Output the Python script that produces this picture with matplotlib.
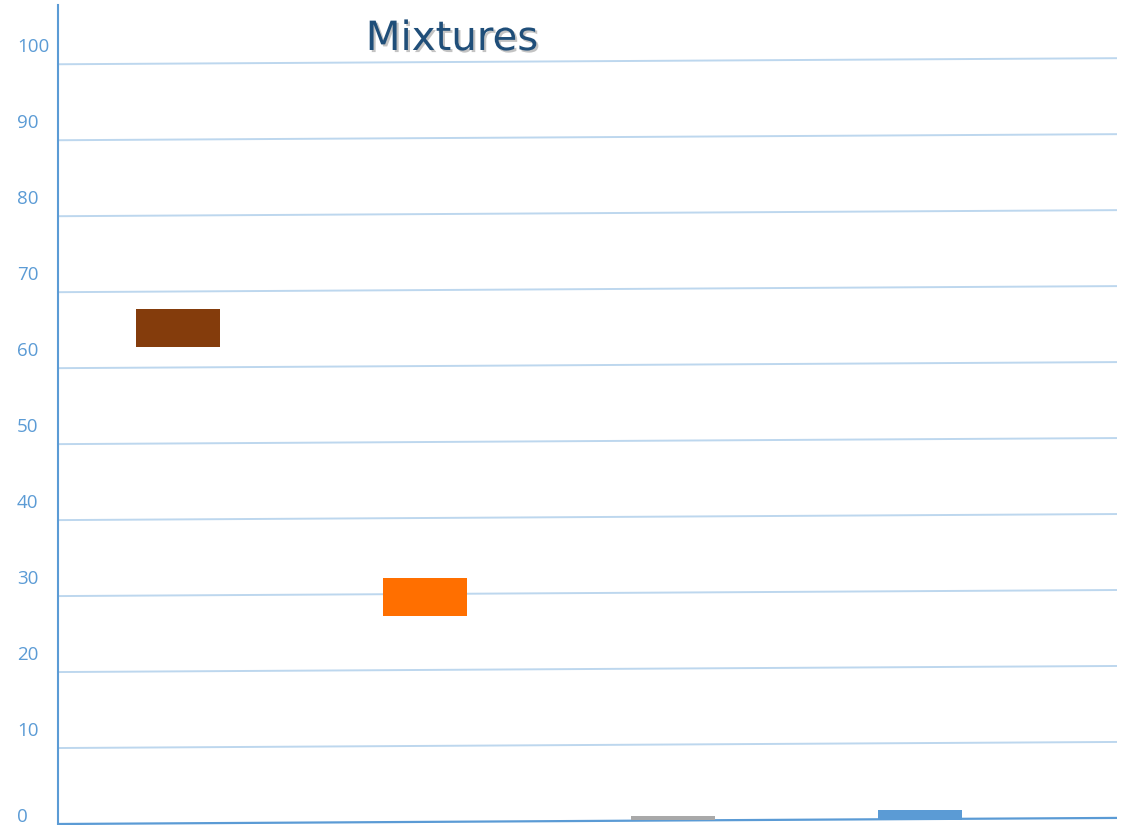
import matplotlib
matplotlib.use("Agg")
import matplotlib.pyplot as plt
import matplotlib.patheffects as pe
import numpy as np

# ---- data ----
categories = ["A", "B", "C", "D"]
lows = [62.8, 27.4, 0.5, 0.5]
highs = [67.8, 32.4, 1.05, 1.85]
bar_colors = ["#843C0C", "#FF6F00", "#A9A9A9", "#5B9BD5"]
yticks = [0, 10, 20, 30, 40, 50, 60, 70, 80, 90, 100]
title = "Mixtures"

# ---- figure ----
W, H = 1127, 825
fig = plt.figure(figsize=(W / 100, H / 100), dpi=100)
ax = fig.add_axes([58 / W, 1 / H, (1117 - 58) / W, (824 - 5) / H])
xlim = (-0.486, 3.798)
ax.set_xlim(*xlim)
ax.set_ylim(0, 107.8)

TILT = 0.8  # slight upward slope of grid lines (style)
for v in yticks:
    if v == 0:
        ax.plot(xlim, [v, v + TILT], color="#5B9BD5", lw=1.6, zorder=1,
                solid_capstyle="butt", clip_on=False)
    else:
        ax.plot(xlim, [v, v + TILT], color="#BDD7EE", lw=1.4, zorder=1,
                solid_capstyle="butt")

x = np.arange(len(categories))
ax.bar(x, np.array(highs) - np.array(lows), bottom=lows, width=0.34,
       color=bar_colors, zorder=3)

for s in ["top", "right", "bottom"]:
    ax.spines[s].set_visible(False)
ax.spines["left"].set_color("#5B9BD5")
ax.spines["left"].set_linewidth(1.5)
ax.set_xticks([])
ax.set_yticks([])

tx = ax.get_yaxis_transform()
for v in yticks:
    ypos = v + 2.3 if v > 0 else 0.95
    ax.text(-(58 - 17) / (1117 - 58), ypos, str(v), transform=tx,
            ha="left", va="center", fontsize=13.5, color="#5B9BD5",
            family="Open Sans", clip_on=False)

fig.text(452 / W, 1 - 50 / H, title, ha="center", va="baseline",
         fontsize=29, color="#1F4E79", family="DejaVu Sans",
         path_effects=[pe.withSimplePatchShadow(offset=(1.5, -1.5),
                                                shadow_rgbFace="#888888",
                                                alpha=0.5)])

fig.savefig("out.png", dpi=100)
